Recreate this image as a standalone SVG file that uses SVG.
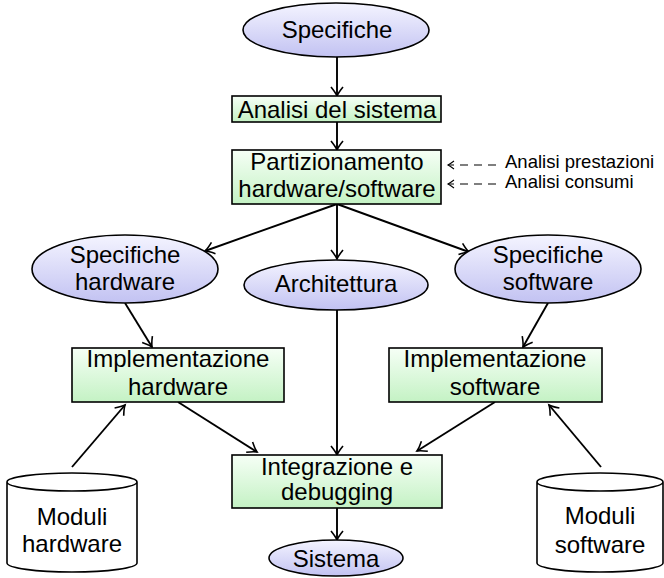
<svg xmlns="http://www.w3.org/2000/svg" width="664" height="578" viewBox="0 0 664 578">
<defs>
<linearGradient id="gE" x1="0" y1="0" x2="0" y2="1"><stop offset="0" stop-color="#f4f4ff"/><stop offset="1" stop-color="#c2c2f2"/></linearGradient>
<linearGradient id="gB" x1="0" y1="0" x2="0" y2="1"><stop offset="0" stop-color="#f6fff6"/><stop offset="1" stop-color="#c4f2c4"/></linearGradient>
<marker id="arr" markerUnits="userSpaceOnUse" markerWidth="16" markerHeight="16" viewBox="-12 -8 14 16" refX="0" refY="0" orient="auto"><path d="M-9,-6 Q-3.5,-1.5 0,0 Q-3.5,1.5 -9,6" fill="none" stroke="#000" stroke-width="1.6"/></marker>
<marker id="arrs" markerUnits="userSpaceOnUse" markerWidth="12" markerHeight="12" viewBox="-8 -6 10 12" refX="0" refY="0" orient="auto"><path d="M-6,-4 Q-2,-1 0,0 Q-2,1 -6,4" fill="none" stroke="#000" stroke-width="1.1"/></marker>
</defs>
<style>
.e{fill:url(#gE);stroke:#000;stroke-width:1.6}
.b{fill:url(#gB);stroke:#000;stroke-width:1.6}
.c{fill:#fff;stroke:#000;stroke-width:1.6}
.t{font-family:"Liberation Sans",Arial,sans-serif;font-size:24px;fill:#000;text-anchor:middle}
.s{font-family:"Liberation Sans",Arial,sans-serif;font-size:18.5px;fill:#000}
.l{fill:none;stroke:#000;stroke-width:1.9;marker-end:url(#arr)}
.d{fill:none;stroke:#000;stroke-width:1.2;stroke-dasharray:8 6;marker-end:url(#arrs)}
</style>
<g id="connectors">
<line class="l" x1="337" y1="57" x2="337" y2="96"/>
<line class="l" x1="337" y1="122" x2="337" y2="150"/>
<line class="l" x1="337" y1="204" x2="205" y2="251"/>
<line class="l" x1="337" y1="204" x2="337" y2="259"/>
<line class="l" x1="337" y1="204" x2="469" y2="252"/>
<line class="l" x1="125" y1="303" x2="152" y2="347"/>
<line class="l" x1="548" y1="303" x2="523" y2="347"/>
<line class="l" x1="337" y1="310" x2="337" y2="455"/>
<line class="l" x1="178" y1="402" x2="257" y2="452"/>
<line class="l" x1="495" y1="402" x2="417" y2="451"/>
<line class="l" x1="72" y1="467" x2="125" y2="405"/>
<line class="l" x1="601" y1="467" x2="549" y2="405"/>
<line class="l" x1="337" y1="508" x2="337" y2="540"/>
<line class="d" x1="496" y1="165" x2="448" y2="165"/>
<line class="d" x1="496" y1="184" x2="448" y2="184"/>
</g>
<g id="n-specifiche"><ellipse class="e" cx="336" cy="30" rx="93" ry="27"/><text class="t" x="337" y="38">Specifiche</text></g>
<g id="n-analisi"><rect class="b" x="232" y="96" width="209" height="26"/><text class="t" x="337" y="118">Analisi del sistema</text></g>
<g id="n-partizionamento"><rect class="b" x="232" y="150" width="209" height="54"/><text class="t" x="337" y="170">Partizionamento</text><text class="t" x="337" y="197">hardware/software</text></g>
<g id="n-analisi-prestazioni"><text class="s" x="505" y="168">Analisi prestazioni</text></g>
<g id="n-analisi-consumi"><text class="s" x="505" y="188">Analisi consumi</text></g>
<g id="n-spec-hw"><ellipse class="e" cx="125" cy="269" rx="93" ry="34"/><text class="t" x="125" y="263">Specifiche</text><text class="t" x="125" y="290">hardware</text></g>
<g id="n-architettura"><ellipse class="e" cx="336" cy="285" rx="92" ry="25"/><text class="t" x="336" y="292">Architettura</text></g>
<g id="n-spec-sw"><ellipse class="e" cx="548" cy="269" rx="93" ry="34"/><text class="t" x="548" y="263">Specifiche</text><text class="t" x="548" y="290">software</text></g>
<g id="n-impl-hw"><rect class="b" x="72" y="348" width="212" height="54"/><text class="t" x="178" y="367">Implementazione</text><text class="t" x="178" y="395">hardware</text></g>
<g id="n-impl-sw"><rect class="b" x="389" y="348" width="213" height="54"/><text class="t" x="495" y="367">Implementazione</text><text class="t" x="495" y="395">software</text></g>
<g id="n-integrazione"><rect class="b" x="232" y="455" width="210" height="53"/><text class="t" x="337" y="475">Integrazione e</text><text class="t" x="337" y="500">debugging</text></g>
<g id="n-sistema"><ellipse class="e" cx="336" cy="558" rx="67" ry="18"/><text class="t" x="336" y="567">Sistema</text></g>
<g id="n-moduli-hw"><path class="c" d="M7,482 L7,563 A65,9 0 0 0 137,563 L137,482 A65,9 0 0 0 7,482 A65,9 0 0 0 137,482"/><text class="t" x="72" y="525">Moduli</text><text class="t" x="72" y="552">hardware</text></g>
<g id="n-moduli-sw"><path class="c" d="M537,482 L537,563 A63,9 0 0 0 663,563 L663,482 A63,9 0 0 0 537,482 A63,9 0 0 0 663,482"/><text class="t" x="600" y="524">Moduli</text><text class="t" x="600" y="553">software</text></g>
</svg>
